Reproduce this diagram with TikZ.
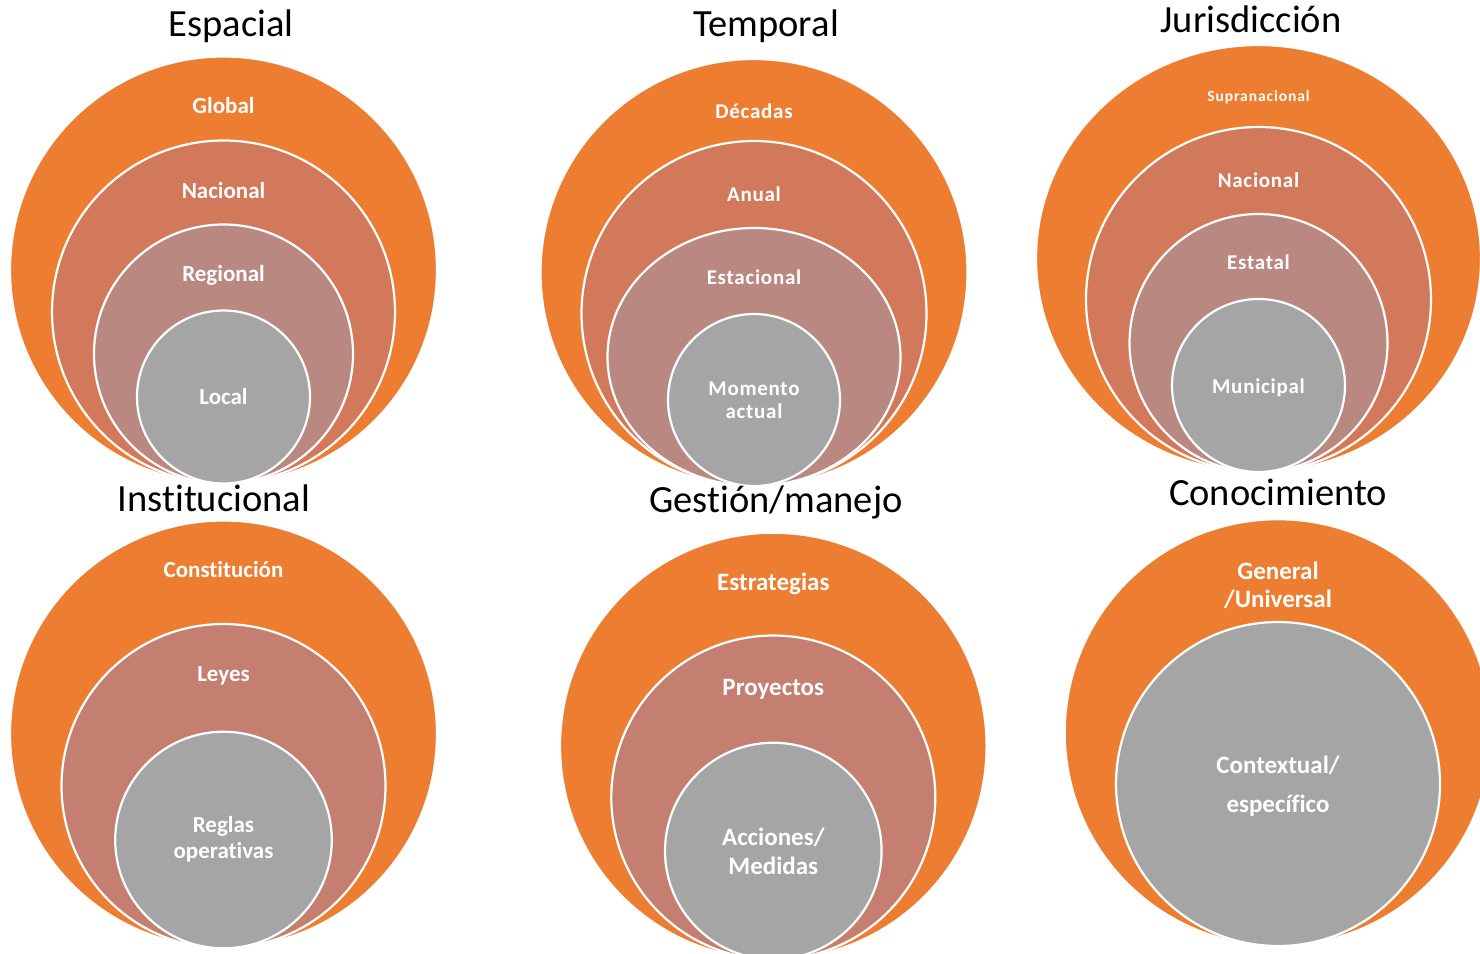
\documentclass[tikz,border=0pt]{standalone}
\usepackage{fontspec}
\setmainfont{Carlito}[Ligatures=NoCommon]
\newfontfamily\trackA[LetterSpace=3.5,Ligatures=NoCommon]{Carlito}
\newfontfamily\trackB[LetterSpace=6,Ligatures=NoCommon]{Carlito}
\definecolor{cOrange}{HTML}{ED7D31}
\definecolor{cRingA}{HTML}{D3795B}
\definecolor{cRingB}{HTML}{B98881}
\definecolor{cRingC}{HTML}{C47F70}
\definecolor{cGray}{HTML}{A5A5A5}
\tikzset{
  ringO/.style={fill=cOrange, draw=white, line width=2.2pt},
  ringA/.style={fill=cRingA, draw=white, line width=2.2pt},
  ringB/.style={fill=cRingB, draw=white, line width=2.2pt},
  ringC/.style={fill=cRingC, draw=white, line width=2.2pt},
  ringG/.style={fill=cGray, draw=white, line width=2.2pt},
  ttl/.style={font=\fontsize{38.5}{42}\selectfont, anchor=base, inner sep=0pt, text=black},
  lab/.style={font=\bfseries\fontsize{23}{27}\selectfont, anchor=base, inner sep=0pt, text=white},
  labL/.style={font=\bfseries\fontsize{25}{29}\selectfont, anchor=base, inner sep=0pt, text=white},
  labT/.style={font=\trackA\bfseries\fontsize{21}{25}\selectfont, anchor=base, inner sep=0pt, text=white},
  labS/.style={font=\trackB\bfseries\fontsize{15.5}{18}\selectfont, anchor=base, inner sep=0pt, text=white},
}
\begin{document}
\begin{tikzpicture}[x=1pt,y=-1pt]
\path[use as bounding box, fill=white] (0,0) rectangle (1480,953);
\clip (0,0) rectangle (1480,953);

% ---------- Espacial ----------
\filldraw[ringO] (223.5,270) circle[radius=213.5pt];
\filldraw[ringA] (223.5,312) circle[radius=171.5pt];
\filldraw[ringB] (223.5,354) circle[radius=129.5pt];
\filldraw[ringG] (223.5,397) circle[radius=86.5pt];
\node[ttl] (tEsp) at (231,36) {Espacial};
\node[lab] (eGlo) at (223.5,113.3) {Global};
\node[lab] (eNac) at (223.5,198.3) {Nacional};
\node[lab] (eReg) at (223.5,281.7) {Regional};
\node[lab] (eLoc) at (223.5,404) {Local};

% ---------- Temporal ----------
\filldraw[ringO] (754,272.5) circle[radius=213.5pt];
\filldraw[ringA] (754,313.5) circle[radius=172.5pt];
\filldraw[ringB] (754,357) ellipse[x radius=146.5pt, y radius=129pt];
\filldraw[ringG] (754,400) circle[radius=86pt];
\node[ttl] (tTem) at (766,36) {Temporal};
\node[labT] (tDec) at (754,118) {Décadas};
\node[labT] (tAnu) at (754,201) {Anual};
\node[labT] (tEst) at (754,284) {Estacional};
\node[labT] (tMom) at (754,395) {Momento};
\node[labT] (tAct) at (754,418.3) {actual};

% ---------- Jurisdiccion ----------
\filldraw[ringO] (1258.5,258.5) ellipse[x radius=222.5pt, y radius=213.5pt];
\filldraw[ringA] (1258.5,299.5) circle[radius=172.5pt];
\filldraw[ringB] (1258.5,343) circle[radius=129pt];
\filldraw[ringG] (1258.5,385.5) circle[radius=86.5pt];
\node[ttl] (tJur) at (1251,32) {Jurisdicción};
\node[labS] (jSup) at (1258.5,101) {Supranacional};
\node[labT] (jNac) at (1258.5,187.3) {Nacional};
\node[labT] (jEst) at (1258.5,269.3) {Estatal};
\node[labT] (jMun) at (1258.5,393.3) {Municipal};

% ---------- Institucional ----------
\filldraw[ringO] (223.5,734) circle[radius=213.5pt];
\filldraw[ringC] (223.5,786) circle[radius=162pt];
\filldraw[ringG] (223.5,840) circle[radius=108.3pt];
\node[ttl] (tIns) at (214,511.7) {Institucional};
\node[lab] (iCon) at (223.5,577.7) {Constitución};
\node[lab] (iLey) at (223.5,681) {Leyes};
\node[lab] (iReg) at (223.5,832.7) {Reglas};
\node[lab] (iOpe) at (223.5,858.3) {operativas};

% ---------- Gestion/manejo ----------
\filldraw[ringO] (773.3,746) circle[radius=213.3pt];
\filldraw[ringC] (773.3,797.5) circle[radius=162pt];
\filldraw[ringG] (773.3,851) circle[radius=108.3pt];
\node[ttl] (tGes) at (776,512.7) {Gestión/manejo};
\node[labL] (gEst) at (773.3,590.7) {Estrategias};
\node[labL] (gPro) at (773.3,695) {Proyectos};
\node[labL] (gAcc) at (773.3,845) {Acciones/};
\node[labL] (gMed) at (773.3,874.3) {Medidas};

% ---------- Conocimiento ----------
\filldraw[ringO] (1278,732.5) circle[radius=213.3pt];
\filldraw[ringG] (1278,784) circle[radius=162pt];
\node[ttl] (tCon) at (1278,505) {Conocimiento};
\node[labL] (cGen) at (1278,579) {General};
\node[labL] (cUni) at (1278,607.3) {/Universal};
\node[labL] (cCtx) at (1278,773.3) {Contextual/};
\node[labL] (cEsp) at (1278,812.3) {específico};
\end{tikzpicture}
\end{document}
